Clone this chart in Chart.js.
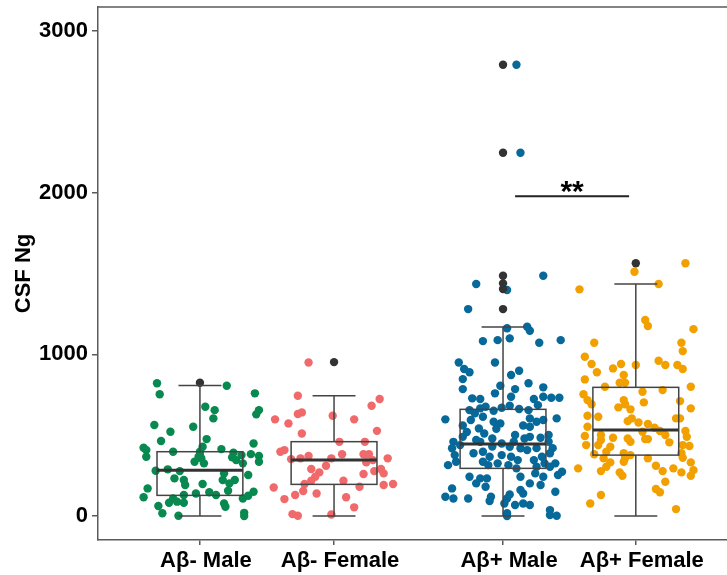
<!DOCTYPE html>
<html>
<head>
<meta charset="utf-8">
<script src="https://cdn.jsdelivr.net/npm/chart.js@4.4.1/dist/chart.umd.min.js"></script>
<style>
  html, body { margin: 0; padding: 0; background: #fff; }
</style>
</head>
<body>
<canvas id="chart" width="727" height="575"></canvas>
<script>
// --- Data ---
const categories = ['Aβ- Male', 'Aβ- Female', 'Aβ+ Male', 'Aβ+ Female'];
const catPos = [1, 2, 3.26, 4.25];
const yTicks = [0, 1000, 2000, 3000];

// box plot summaries per group
const q1 = [128, 196, 295, 377];
const median = [284, 346, 445, 532];
const q3 = [398, 460, 660, 796];
const whiskerLow = [0, 0, 0, 0];
const whiskerHigh = [808, 744, 1169, 1435];

// outliers (drawn dark, on the group centre)
const outliers = [[824], [952], [2791, 2247, 1486, 1439, 1404, 1280], [1563]];

// significance bracket between Aβ+ Male and Aβ+ Female
const sigFrom = 3.35;
const sigTo = 4.2;
const sigValue = 1977;
const sigLabel = '**';

// jittered observations: [x offset from group centre, value]
const negMale = [
  [-0.32, 821], [0.20, 806], [-0.30, 753], [0.41, 759], [0.04, 676], [0.11, 655], [0.10, 604], [0.44, 655],
  [0.42, 629], [-0.34, 563], [-0.05, 552], [-0.22, 521], [-0.29, 464], [0.05, 476], [0.40, 449], [-0.42, 422],
  [-0.40, 408], [-0.40, 367], [-0.20, 398], [0.02, 429], [0.00, 398], [0.16, 414], [-0.01, 367], [0.01, 357],
  [-0.04, 336], [0.03, 326], [0.00, 377], [0.25, 392], [0.31, 377], [0.24, 363], [0.27, 346], [0.32, 326],
  [0.38, 383], [0.44, 371], [0.44, 336], [-0.33, 280], [-0.24, 289], [-0.15, 278], [-0.19, 233], [-0.12, 223],
  [-0.11, 192], [0.02, 198], [0.18, 264], [0.17, 223], [0.26, 223], [0.22, 202], [0.36, 254], [-0.39, 171],
  [-0.42, 116], [-0.12, 130], [-0.03, 140], [0.07, 147], [0.12, 130], [0.21, 157], [0.32, 109], [0.40, 150],
  [0.36, 126], [-0.20, 109], [-0.23, 82], [-0.17, 89], [-0.12, 82], [-0.31, 62], [0.18, 78], [0.19, 58],
  [-0.28, 17], [-0.16, 2], [0.33, 20], [0.33, 0]
];
const negFemale = [
  [-0.19, 950], [-0.27, 744], [0.34, 724], [0.28, 682], [-0.27, 631], [-0.24, 641], [-0.44, 598], [-0.34, 573],
  [-0.01, 620], [0.15, 598], [0.32, 527], [-0.24, 511], [0.04, 459], [0.23, 459], [-0.40, 398], [-0.37, 408],
  [-0.32, 352], [-0.25, 357], [-0.19, 371], [-0.02, 357], [0.06, 382], [0.22, 382], [0.26, 382], [0.29, 346],
  [0.24, 332], [0.40, 357], [-0.06, 311], [-0.17, 291], [-0.11, 270], [0.30, 278], [0.35, 291], [0.37, 264],
  [0.22, 260], [-0.14, 243], [-0.17, 218], [-0.22, 198], [0.07, 218], [-0.45, 177], [-0.23, 155], [-0.29, 130],
  [-0.13, 140], [0.19, 181], [0.37, 192], [0.44, 198], [-0.37, 105], [0.09, 116], [0.15, 54], [-0.31, 12],
  [-0.27, 2], [-0.02, 10]
];
const posMale = [
  [0.10, 2791], [0.13, 2247],
  [0.30, 1486], [-0.20, 1435], [0.03, 1398], [-0.26, 1280], [0.03, 1161], [0.18, 1171], [0.20, 1146], [-0.15, 1082],
  [-0.04, 1088], [0.05, 1099], [0.27, 1072], [0.43, 1088], [-0.33, 950], [-0.06, 950], [-0.29, 909], [-0.25, 889],
  [-0.30, 847], [0.06, 872], [0.12, 899], [-0.30, 785], [-0.02, 806], [0.19, 821], [0.09, 785], [-0.06, 759],
  [0.30, 796], [-0.23, 728], [-0.17, 724], [0.06, 738], [0.23, 724], [0.30, 738], [0.36, 732], [0.42, 732],
  [-0.43, 598], [-0.25, 655], [-0.21, 635], [-0.17, 666], [-0.13, 676], [-0.07, 651], [-0.01, 670], [0.05, 682],
  [0.12, 662], [0.19, 655], [0.26, 686], [0.20, 604], [0.25, 583], [0.30, 594], [0.40, 604], [-0.24, 594],
  [-0.15, 614], [-0.07, 583], [-0.02, 573], [-0.18, 542], [-0.14, 511], [-0.30, 490], [-0.37, 459], [-0.32, 439],
  [-0.08, 480], [-0.17, 459], [0.09, 501], [0.08, 459], [0.20, 552], [0.20, 490], [0.28, 484], [0.34, 501],
  [0.34, 459], [-0.01, 449], [0.05, 429], [0.13, 419], [0.18, 408], [-0.38, 419], [-0.36, 377], [-0.22, 388],
  [-0.15, 398], [-0.10, 367], [-0.01, 377], [0.06, 367], [0.11, 346], [0.23, 346], [0.29, 367], [0.35, 388],
  [-0.41, 315], [-0.35, 336], [-0.15, 336], [-0.11, 315], [-0.04, 326], [0.04, 315], [0.10, 295], [0.25, 305],
  [0.31, 326], [0.35, 305], [0.39, 326], [0.44, 274], [0.41, 254], [-0.25, 243], [-0.17, 233], [-0.12, 233],
  [0.13, 243], [0.24, 264], [0.30, 243], [-0.20, 202], [-0.13, 181], [0.20, 202], [0.28, 192], [-0.38, 171],
  [0.13, 161], [0.15, 140], [0.05, 134], [0.39, 150], [-0.43, 119], [-0.37, 109], [-0.26, 109], [-0.09, 119],
  [-0.10, 93], [0.03, 109], [0.01, 78], [0.09, 68], [0.15, 78], [0.20, 68], [0.03, 17], [0.03, 0],
  [0.35, 37], [0.35, 6], [0.40, 2], [-0.27, 520], [-0.20, 470], [-0.05, 540], [0.15, 560], [0.16, 480],
  [-0.30, 560], [0.37, 420], [-0.08, 430], [0.25, 420]
];
const posFemale = [
  [0.37, 1563], [-0.01, 1511], [0.17, 1435], [-0.42, 1402], [0.07, 1212], [0.09, 1175], [0.43, 1156], [-0.31, 1072],
  [0.34, 1072], [0.35, 1020], [-0.38, 985], [-0.33, 940], [-0.29, 889], [-0.17, 913], [-0.11, 940], [0.00, 934],
  [0.17, 960], [0.22, 934], [0.31, 934], [0.35, 909], [-0.09, 872], [-0.38, 845], [-0.12, 824], [-0.08, 824],
  [-0.23, 800], [0.41, 800], [0.05, 769], [0.20, 779], [-0.39, 753], [-0.36, 717], [-0.33, 691], [-0.09, 717],
  [-0.08, 691], [-0.13, 672], [-0.04, 660], [0.06, 703], [0.33, 711], [0.41, 666], [-0.36, 620], [-0.28, 614],
  [-0.06, 587], [-0.03, 604], [0.02, 579], [0.09, 569], [0.30, 604], [0.33, 604], [-0.36, 552], [0.14, 546],
  [0.18, 526], [0.05, 521], [0.37, 526], [-0.38, 495], [-0.26, 501], [-0.17, 484], [-0.06, 480], [-0.04, 459],
  [0.07, 476], [0.09, 476], [0.22, 501], [0.25, 456], [0.38, 490], [-0.37, 439], [-0.28, 439], [-0.26, 470],
  [-0.19, 429], [-0.22, 398], [0.35, 439], [0.40, 433], [-0.31, 382], [-0.24, 357], [-0.09, 388], [-0.08, 357],
  [-0.04, 377], [-0.09, 336], [0.09, 357], [0.34, 388], [0.35, 361], [-0.19, 332], [-0.22, 305], [-0.26, 278],
  [-0.43, 295], [-0.12, 270], [-0.10, 249], [0.15, 311], [0.20, 278], [0.28, 295], [0.34, 270], [0.41, 332],
  [0.43, 284], [0.41, 249], [0.22, 212], [0.15, 167], [0.18, 147], [-0.26, 130], [-0.34, 78], [0.30, 43]
];

const groups = [negMale, negFemale, posMale, posFemale];
const groupColors = ['#07894f', '#f06a6b', '#07689a', '#f2a000'];
const axisColor = '#5a5a5a';
const FONT = 'Liberation Sans, Arial, sans-serif';

// --- Box plots, frame line and significance bar ---
const boxPlugin = {
    id: 'boxes',
    afterDatasetsDraw(chart) {
        const { ctx, chartArea, scales: { x, y } } = chart;
        const boxHalf = 0.32;
        const capHalf = 0.16;
        ctx.save();

        categories.forEach((c, i) => {
            const cx = x.getPixelForValue(catPos[i]);
            const l = x.getPixelForValue(catPos[i] - boxHalf);
            const r = x.getPixelForValue(catPos[i] + boxHalf);
            const cl = x.getPixelForValue(catPos[i] - capHalf);
            const cr = x.getPixelForValue(catPos[i] + capHalf);
            const yq1 = y.getPixelForValue(q1[i]);
            const yq3 = y.getPixelForValue(q3[i]);
            const ymed = y.getPixelForValue(median[i]);
            const ylo = y.getPixelForValue(whiskerLow[i]);
            const yhi = y.getPixelForValue(whiskerHigh[i]);

            ctx.strokeStyle = '#444';
            ctx.lineWidth = 1.5;
            ctx.strokeRect(l, yq3, r - l, yq1 - yq3);

            ctx.beginPath();
            ctx.moveTo(cx, yq3); ctx.lineTo(cx, yhi);
            ctx.moveTo(cl, yhi); ctx.lineTo(cr, yhi);
            ctx.moveTo(cx, yq1); ctx.lineTo(cx, ylo);
            ctx.moveTo(cl, ylo); ctx.lineTo(cr, ylo);
            ctx.stroke();

            ctx.lineWidth = 3;
            ctx.strokeStyle = '#333';
            ctx.beginPath();
            ctx.moveTo(l, ymed); ctx.lineTo(r, ymed);
            ctx.stroke();
        });

        // significance bar
        const sy = y.getPixelForValue(sigValue);
        ctx.strokeStyle = '#222';
        ctx.lineWidth = 2;
        ctx.beginPath();
        ctx.moveTo(x.getPixelForValue(sigFrom), sy);
        ctx.lineTo(x.getPixelForValue(sigTo), sy);
        ctx.stroke();
        ctx.fillStyle = '#000';
        ctx.font = 'bold 30px ' + FONT;
        ctx.textAlign = 'center';
        ctx.textBaseline = 'alphabetic';
        ctx.fillText(sigLabel, x.getPixelForValue((sigFrom + sigTo) / 2), sy + 5);

        // top frame line
        ctx.strokeStyle = axisColor;
        ctx.lineWidth = 1.5;
        ctx.beginPath();
        ctx.moveTo(chartArea.left, chartArea.top);
        ctx.lineTo(chartArea.right, chartArea.top);
        ctx.stroke();
        ctx.restore();
    }
};

const datasets = groups.map((pts, i) => ({
    label: categories[i],
    data: pts.map(p => ({ x: catPos[i] + p[0], y: p[1] })),
    backgroundColor: groupColors[i],
    borderWidth: 0,
    pointRadius: 4.2
}));

datasets.unshift({
    label: 'outliers',
    data: outliers.flatMap((vals, i) => vals.map(v => ({ x: catPos[i], y: v }))),
    backgroundColor: '#333',
    borderWidth: 0,
    pointRadius: 4.2
});

new Chart(document.getElementById('chart'), {
    type: 'scatter',
    data: { datasets },
    options: {
        responsive: false,
        devicePixelRatio: 1,
        animation: false,
        layout: { autoPadding: false, padding: { top: 7, right: 0, left: 0, bottom: 0 } },
        plugins: {
            legend: { display: false },
            tooltip: { enabled: false }
        },
        scales: {
            x: {
                type: 'linear',
                min: 0.24,
                max: 4.93,
                afterBuildTicks: s => { s.ticks = catPos.map(v => ({ value: v })); },
                afterFit: s => { s.height = 35; s.paddingLeft = 0; s.paddingRight = 0; },
                ticks: {
                    autoSkip: false,
                    maxRotation: 0,
                    padding: 3,
                    labelOffset: 6,
                    color: '#000',
                    font: { family: FONT, size: 22, weight: 'bold' },
                    callback: v => categories[catPos.indexOf(v)]
                },
                grid: { drawOnChartArea: false, tickLength: 5, color: axisColor, lineWidth: 1.5 },
                border: { color: axisColor, width: 1.5 }
            },
            y: {
                min: -148,
                max: 3148,
                afterBuildTicks: s => { s.ticks = yTicks.map(v => ({ value: v })); },
                afterFit: s => { s.width = 98; s.paddingTop = 0; s.paddingBottom = 0; },
                ticks: {
                    padding: 4,
                    color: '#000',
                    font: { family: FONT, size: 22, weight: 'bold' },
                    callback: v => String(v)
                },
                title: {
                    display: true,
                    text: 'CSF Ng',
                    color: '#000',
                    padding: { top: 11, bottom: 0 },
                    font: { family: FONT, size: 22, weight: 'bold' }
                },
                grid: { drawOnChartArea: false, tickLength: 6, color: axisColor, lineWidth: 1.5 },
                border: { color: axisColor, width: 1.5 }
            }
        }
    },
    plugins: [boxPlugin]
});
</script>
</body>
</html>
